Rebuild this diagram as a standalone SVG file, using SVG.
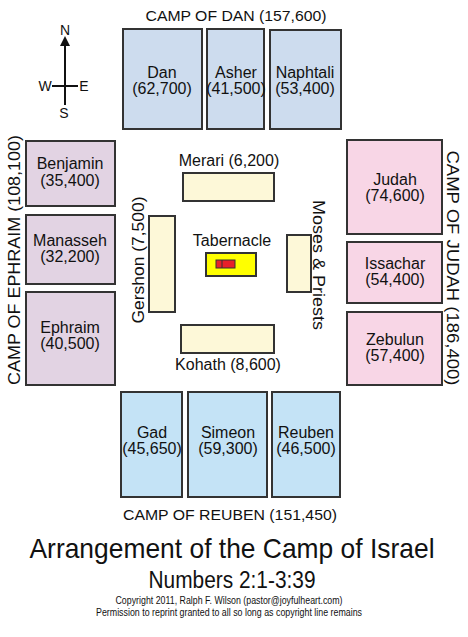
<svg xmlns="http://www.w3.org/2000/svg" width="468" height="637" viewBox="0 0 468 637">
<style>
text{font-family:"Liberation Sans",Arial,sans-serif;fill:#111;text-anchor:middle}
.box{stroke:#333;stroke-width:2}
.n{fill:#cddcee}.w{fill:#e2d3e3}.e{fill:#f8d6e6}.s{fill:#c4e3f6}.l{fill:#fdf8d8}
.t{font-size:16px}.c{font-size:15.5px}.lv{font-size:16px}
</style>
<rect width="468" height="637" fill="#fff"/>
<g id="compass">
<line x1="65" y1="44" x2="65" y2="105" stroke="#111" stroke-width="2"/>
<line x1="52" y1="86" x2="78" y2="86" stroke="#111" stroke-width="2"/>
<polygon points="65,36 60,46 70,46" fill="#111"/>
<text x="65" y="35" font-size="14">N</text>
<text x="45" y="91" font-size="14">W</text>
<text x="84" y="91" font-size="14">E</text>
<text x="64" y="118" font-size="14">S</text>
</g>
<text x="236" y="21" class="c" textLength="181" lengthAdjust="spacingAndGlyphs">CAMP OF DAN (157,600)</text>
<text x="230" y="520" class="c" textLength="214" lengthAdjust="spacingAndGlyphs">CAMP OF REUBEN (151,450)</text>
<text transform="translate(20,260) rotate(-90)" font-size="16.5" textLength="250" lengthAdjust="spacingAndGlyphs">CAMP OF EPHRAIM (108,100)</text>
<text transform="translate(447,268) rotate(90)" font-size="16.5" textLength="235" lengthAdjust="spacingAndGlyphs">CAMP OF JUDAH (186,400)</text>
<g id="dan"><rect class="box n" x="123" y="29" width="79" height="100"/><text x="162" y="78" class="t">Dan</text><text x="162" y="94" class="t">(62,700)</text></g>
<g id="asher"><rect class="box n" x="207" y="29" width="57" height="100"/><text x="236" y="78" class="t">Asher</text><text x="236" y="94" class="t">(41,500)</text></g>
<g id="naphtali"><rect class="box n" x="270" y="30" width="71" height="99"/><text x="305" y="78" class="t">Naphtali</text><text x="305" y="94" class="t">(53,400)</text></g>
<g id="benjamin"><rect class="box w" x="26" y="141" width="89" height="65"/><text x="70" y="169" class="t">Benjamin</text><text x="70" y="186" class="t">(35,400)</text></g>
<g id="manasseh"><rect class="box w" x="26" y="215" width="89" height="69"/><text x="70" y="246" class="t">Manasseh</text><text x="70" y="262" class="t">(32,200)</text></g>
<g id="ephraim"><rect class="box w" x="26" y="292" width="89" height="93"/><text x="70" y="333" class="t">Ephraim</text><text x="70" y="349" class="t">(40,500)</text></g>
<g id="judah"><rect class="box e" x="347" y="140" width="95" height="94"/><text x="395" y="185" class="t">Judah</text><text x="395" y="201" class="t">(74,600)</text></g>
<g id="issachar"><rect class="box e" x="347" y="242" width="95" height="61"/><text x="395" y="269" class="t">Issachar</text><text x="395" y="285" class="t">(54,400)</text></g>
<g id="zebulun"><rect class="box e" x="347" y="312" width="95" height="73"/><text x="395" y="345" class="t">Zebulun</text><text x="395" y="361" class="t">(57,400)</text></g>
<g id="gad"><rect class="box s" x="121" y="392" width="61" height="105"/><text x="152" y="438" class="t">Gad</text><text x="152" y="454" class="t">(45,650)</text></g>
<g id="simeon"><rect class="box s" x="188" y="392" width="79" height="105"/><text x="228" y="438" class="t">Simeon</text><text x="228" y="454" class="t">(59,300)</text></g>
<g id="reuben"><rect class="box s" x="272" y="392" width="68" height="105"/><text x="306" y="438" class="t">Reuben</text><text x="306" y="454" class="t">(46,500)</text></g>
<g id="merari"><rect class="box l" x="183" y="173" width="91" height="28"/><text x="229" y="166" class="lv">Merari (6,200)</text></g>
<g id="gershon"><rect class="box l" x="149" y="216" width="26" height="96"/><text transform="translate(144,260) rotate(-90)" class="lv" textLength="127" lengthAdjust="spacingAndGlyphs">Gershon (7,500)</text></g>
<g id="moses"><rect class="box l" x="287" y="235" width="24" height="57"/><text transform="translate(313,265) rotate(90)" class="lv" textLength="130" lengthAdjust="spacingAndGlyphs">Moses &amp; Priests</text></g>
<g id="kohath"><rect class="box l" x="181" y="325" width="93" height="28"/><text x="228" y="370" class="lv">Kohath (8,600)</text></g>
<g id="tabernacle"><text x="232" y="246" class="lv">Tabernacle</text><rect class="box" x="206" y="253" width="50" height="23" fill="#ffff00"/><rect x="216" y="260" width="19" height="8" fill="#e8202a" stroke="#333" stroke-width="1"/><line x1="222" y1="260" x2="222" y2="268" stroke="#333" stroke-width="1"/></g>
<text x="232" y="558" font-size="28" textLength="405" lengthAdjust="spacingAndGlyphs">Arrangement of the Camp of Israel</text>
<text x="232" y="588" font-size="23" textLength="167" lengthAdjust="spacingAndGlyphs">Numbers 2:1-3:39</text>
<text x="229" y="604" font-size="10" textLength="227" lengthAdjust="spacingAndGlyphs">Copyright 2011, Ralph F. Wilson (pastor@joyfulheart.com)</text>
<text x="229" y="616" font-size="10" textLength="266" lengthAdjust="spacingAndGlyphs">Permission to reprint granted to all so long as copyright line remains</text>
</svg>
